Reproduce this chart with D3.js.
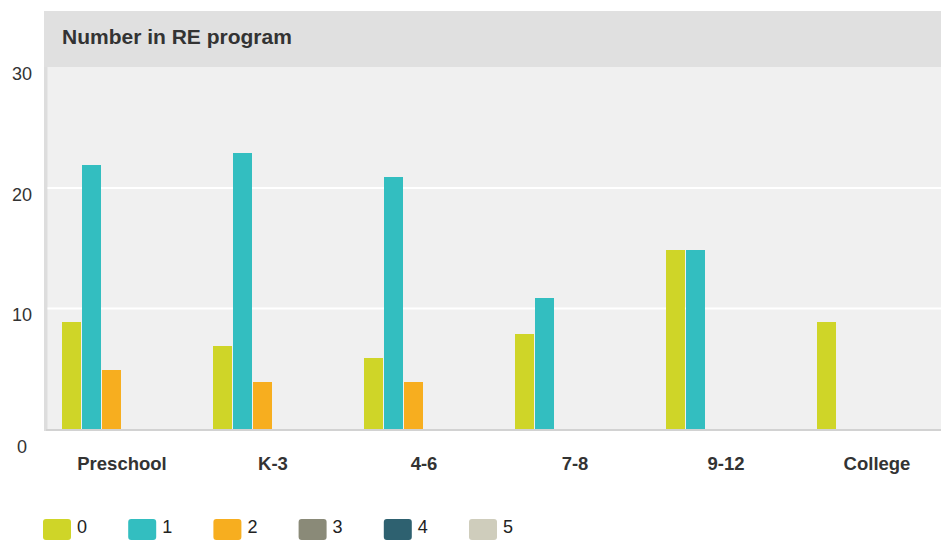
<!DOCTYPE html>
<html>
<head>
<meta charset="utf-8">
<script src="https://cdn.jsdelivr.net/npm/d3@7"></script>
<style>
  html, body { margin: 0; padding: 0; background: #fff; }
  svg { display: block; font-family: "Liberation Sans", Arial, Helvetica, sans-serif; }
</style>
</head>
<body>
<svg id="chart" width="941" height="543"></svg>
<script>
const title = "Number in RE program";
const categories = ["Preschool", "K-3", "4-6", "7-8", "9-12", "College"];
const seriesNames = ["0", "1", "2", "3", "4", "5"];
const seriesColors = ["#cfd528", "#33bec0", "#f7ae1f", "#8a8a78", "#2e6170", "#cfcdbc"];
const values0 = [9, 7, 6, 8, 15, 9];
const values1 = [22, 23, 21, 11, 15, 0];
const values2 = [5, 4, 4, 0, 0, 0];
const values3 = [0, 0, 0, 0, 0, 0];
const values4 = [0, 0, 0, 0, 0, 0];
const values5 = [0, 0, 0, 0, 0, 0];
const yTicks = [0, 10, 20, 30];

const seriesValues = [values0, values1, values2, values3, values4, values5];

const svg = d3.select("#chart");
const W = 941;

const plotLeft = 44, plotTop = 67, baseY = 429;

const y = d3.scaleLinear().domain([0, 30]).range([430.5, 69]);
const x0 = d3.scaleBand().domain(categories).range([46.5, 952.5])
  .paddingInner(31 / 151).paddingOuter(15.5 / 151);
const x1 = d3.scaleBand().domain(seriesNames).range([0, x0.bandwidth()]);

// header band
svg.append("rect").attr("x", plotLeft).attr("y", 11).attr("width", W - plotLeft).attr("height", plotTop - 11).attr("fill", "#e0e0e0");
svg.append("text").attr("x", 62).attr("y", 44).attr("font-size", 21).attr("font-weight", "bold").attr("fill", "#333").text(title);

// plot background
svg.append("rect").attr("x", plotLeft).attr("y", plotTop).attr("width", W - plotLeft).attr("height", baseY - plotTop + 2).attr("fill", "#f0f0f0");
// left strip
svg.append("rect").attr("x", plotLeft).attr("y", plotTop).attr("width", 3.5).attr("height", baseY - plotTop + 2).attr("fill", "#dddddd");

// gridlines
svg.append("g").selectAll("line").data(yTicks.filter(d => d > 0 && d < 30)).join("line")
  .attr("x1", 47.5).attr("x2", W).attr("y1", d => y(d) - 1.5).attr("y2", d => y(d) - 1.5)
  .attr("stroke", "#fff").attr("stroke-width", 2);

// y tick labels
svg.append("g").selectAll("text").data(yTicks).join("text")
  .attr("x", 22).attr("text-anchor", "middle")
  .attr("y", d => y(d) + (d === 0 ? 22.5 : 11))
  .attr("font-size", 18).attr("fill", "#333")
  .text(d => d);

// bars
const groups = svg.append("g").selectAll("g").data(categories).join("g")
  .attr("transform", d => `translate(${x0(d)},0)`);
groups.selectAll("rect")
  .data((c, ci) => seriesNames.map((s, si) => ({ s, si, v: seriesValues[si][ci] })).filter(d => d.v > 0))
  .join("rect")
  .attr("x", d => x1(d.s))
  .attr("width", x1.bandwidth() - 1)
  .attr("y", d => y(d.v))
  .attr("height", d => y(0) - y(d.v))
  .attr("fill", d => seriesColors[d.si])
  .attr("shape-rendering", "crispEdges");

// baseline
svg.append("rect").attr("x", 46).attr("y", baseY).attr("width", W - 46).attr("height", 2).attr("fill", "#d2d2d2");

// category labels
svg.append("g").selectAll("text").data(categories).join("text")
  .attr("x", d => x0(d) + x0.bandwidth() / 2).attr("y", 470)
  .attr("text-anchor", "middle").attr("font-size", 18.5).attr("font-weight", "bold").attr("fill", "#333")
  .text(d => d);

// legend
const legend = svg.append("g").selectAll("g").data(seriesNames).join("g")
  .attr("transform", (d, i) => `translate(${43 + i * 85.2},519)`);
legend.append("rect").attr("width", 28).attr("height", 21).attr("rx", 3).attr("fill", (d, i) => seriesColors[i]);
legend.append("text").attr("x", 34).attr("y", 14).attr("font-size", 18).attr("fill", "#222").text(d => d);
</script>
</body>
</html>
